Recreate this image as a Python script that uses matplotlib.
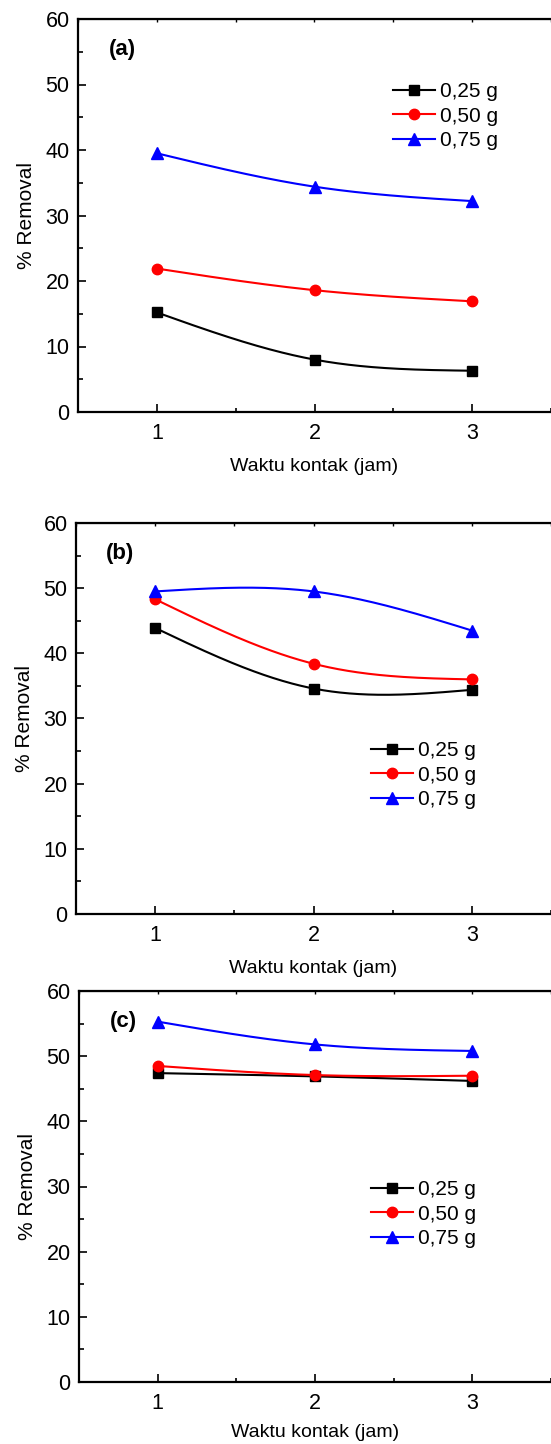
import numpy as np
import matplotlib
matplotlib.use('Agg')
import matplotlib.pyplot as plt
from matplotlib.ticker import MultipleLocator

plt.rcParams['font.family'] = ['Liberation Sans', 'DejaVu Sans']

# contact time (hours)
waktu = [1, 2, 3]
series_labels = ['0,25 g', '0,50 g', '0,75 g']
panel_labels = ['(a)', '(b)', '(c)']

# % removal
removal_a_025 = [15.2, 8.0, 6.3]
removal_a_050 = [21.9, 18.6, 16.9]
removal_a_075 = [39.5, 34.4, 32.2]

removal_b_025 = [43.9, 34.6, 34.4]
removal_b_050 = [48.3, 38.4, 36.0]
removal_b_075 = [49.5, 49.5, 43.5]

removal_c_025 = [47.4, 46.9, 46.2]
removal_c_050 = [48.5, 47.1, 47.0]
removal_c_075 = [55.3, 51.8, 50.8]

panels = [
    [removal_a_025, removal_a_050, removal_a_075],
    [removal_b_025, removal_b_050, removal_b_075],
    [removal_c_025, removal_c_050, removal_c_075],
]

colors = ['black', 'red', 'blue']
markers = ['s', 'o', '^']
msizes = [7, 7.5, 8]


def natural_spline(x, y, n=200):
    # natural cubic spline through the points (like Origin's spline connector)
    x = np.asarray(x, float)
    y = np.asarray(y, float)
    k = len(x)
    h = np.diff(x)
    A = np.zeros((k, k))
    b = np.zeros(k)
    A[0, 0] = 1
    A[-1, -1] = 1
    for i in range(1, k - 1):
        A[i, i - 1] = h[i - 1]
        A[i, i] = 2 * (h[i - 1] + h[i])
        A[i, i + 1] = h[i]
        b[i] = 6 * ((y[i + 1] - y[i]) / h[i] - (y[i] - y[i - 1]) / h[i - 1])
    M = np.linalg.solve(A, b)
    xs = np.linspace(x[0], x[-1], n)
    ys = np.empty_like(xs)
    for j, xv in enumerate(xs):
        i = min(np.searchsorted(x, xv, side='right') - 1, k - 2)
        t1 = x[i + 1] - xv
        t0 = xv - x[i]
        ys[j] = (M[i] * t1 ** 3 / (6 * h[i]) + M[i + 1] * t0 ** 3 / (6 * h[i])
                 + (y[i] / h[i] - M[i] * h[i] / 6) * t1
                 + (y[i + 1] / h[i] - M[i + 1] * h[i] / 6) * t0)
    return xs, ys


W, H = 551, 1444
fig = plt.figure(figsize=(W / 100, H / 100), dpi=100)

# axes boxes in pixels: left, top, bottom
boxes = [(78, 19, 412), (76, 523, 914), (79, 991, 1382)]
legend_pos = [(393, 82), (371, 741), (371, 1180)]
xlabel_pad = [10, 10, 7]

for p, (left, top, bottom) in enumerate(boxes):
    ax = fig.add_axes([left / W, 1 - bottom / H, (551 - left) / W, (bottom - top) / H])
    for vals, c, m, ms, lab in zip(panels[p], colors, markers, msizes, series_labels):
        xs, ys = natural_spline(waktu, vals)
        ax.plot(xs, ys, color=c, lw=1.5)
        ax.plot(waktu, vals, color=c, marker=m, ms=ms, lw=0)
        ax.plot([], [], color=c, marker=m, ms=ms, lw=1.5, label=lab)

    ax.set_xlim(0.5, 3.5)
    ax.set_ylim(0, 60)
    ax.xaxis.set_major_locator(MultipleLocator(1))
    ax.xaxis.set_minor_locator(MultipleLocator(0.5))
    ax.yaxis.set_major_locator(MultipleLocator(10))
    ax.yaxis.set_minor_locator(MultipleLocator(5))
    ax.tick_params(which='both', direction='in', top=False, right=False, width=1.2)
    ax.tick_params(which='major', length=6, labelsize=15.5)
    ax.tick_params(axis='y', which='major', pad=6)
    ax.tick_params(axis='x', which='major', pad=8)
    ax.tick_params(which='minor', length=3.5)
    ax.tick_params(axis='x', which='minor', length=3)
    for s in ax.spines.values():
        s.set_linewidth(1.6)
    ax.spines['right'].set_visible(False)

    # tiny ticks on the top frame
    top_ax = ax.secondary_xaxis('top')
    top_ax.xaxis.set_major_locator(MultipleLocator(0.5))
    top_ax.tick_params(direction='in', length=2, width=1, labeltop=False)

    ax.set_xlabel('Waktu kontak (jam)', fontsize=14, labelpad=xlabel_pad[p])
    ax.set_ylabel('% Removal', fontsize=15, labelpad=7)
    ax.text(0.78, 55.3, panel_labels[p], fontsize=16, fontweight='bold',
            ha='center', va='center')

    lx, ly = legend_pos[p]
    ax.legend(loc='upper left', frameon=False, fontsize=15,
              bbox_to_anchor=(lx / W, 1 - ly / H), bbox_transform=fig.transFigure,
              handlelength=2.0, handletextpad=0.25, labelspacing=0.27,
              borderpad=0, borderaxespad=0)

fig.savefig('out.png', dpi=100)
